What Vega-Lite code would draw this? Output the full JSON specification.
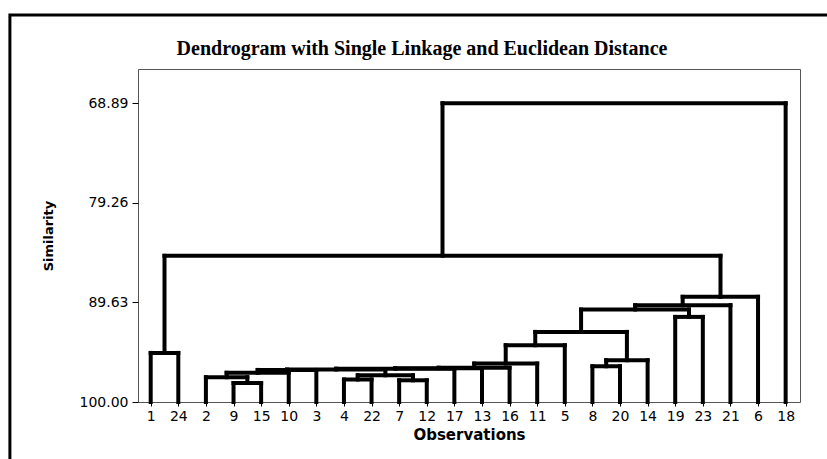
{
  "$schema": "https://vega.github.io/schema/vega-lite/v6.json",
  "width": 662,
  "height": 333,
  "autosize": {"type": "none"},
  "padding": {"left": 138, "top": 69, "right": 27, "bottom": 57},
  "background": "white",
  "title": {
    "text": "Dendrogram with Single Linkage and Euclidean Distance",
    "font": "Liberation Serif",
    "fontSize": 20,
    "fontWeight": "bold",
    "color": "black",
    "anchor": "middle",
    "frame": "group",
    "baseline": "alphabetic",
    "offset": 0,
    "dy": 62,
    "dx": -47
  },
  "config": {
    "view": {"stroke": "#555555", "strokeWidth": 1},
    "axis": {
      "labelFont": "DejaVu Sans",
      "labelFontSize": 14,
      "labelColor": "black",
      "titleFont": "DejaVu Sans",
      "titleFontWeight": "bold",
      "titleColor": "black",
      "tickColor": "black",
      "grid": false,
      "domain": false,
      "labelOverlap": false
    },
    "axisX": {"labelOverlap": false, "labelFlush": false}
  },
  "data": {
    "values": [
      {"xl": 1, "xr": 2, "hl": 100, "hr": 100, "h": 94.89},
      {"xl": 4, "xr": 5, "hl": 100, "hr": 100, "h": 98.02},
      {"xl": 3, "xr": 4.5, "hl": 100, "hr": 98.02, "h": 97.42},
      {"xl": 3.75, "xr": 6, "hl": 97.42, "hr": 100, "h": 96.96},
      {"xl": 4.875, "xr": 7, "hl": 96.96, "hr": 100, "h": 96.66},
      {"xl": 8, "xr": 9, "hl": 100, "hr": 100, "h": 97.66},
      {"xl": 10, "xr": 11, "hl": 100, "hr": 100, "h": 97.74},
      {"xl": 8.5, "xr": 10.5, "hl": 97.66, "hr": 97.74, "h": 97.22},
      {"xl": 5.94, "xr": 9.5, "hl": 96.66, "hr": 97.22, "h": 96.62},
      {"xl": 7.72, "xr": 12, "hl": 96.62, "hr": 100, "h": 96.53},
      {"xl": 9.86, "xr": 13, "hl": 96.53, "hr": 100, "h": 96.48},
      {"xl": 11.43, "xr": 14, "hl": 96.48, "hr": 100, "h": 96.43},
      {"xl": 12.72, "xr": 15, "hl": 96.43, "hr": 100, "h": 96.0},
      {"xl": 13.86, "xr": 16, "hl": 96.0, "hr": 100, "h": 94.09},
      {"xl": 17, "xr": 18, "hl": 100, "hr": 100, "h": 96.28},
      {"xl": 17.5, "xr": 19, "hl": 96.28, "hr": 100, "h": 95.65},
      {"xl": 14.93, "xr": 18.25, "hl": 94.09, "hr": 95.65, "h": 92.7},
      {"xl": 20, "xr": 21, "hl": 100, "hr": 100, "h": 91.14},
      {"xl": 16.59, "xr": 20.5, "hl": 92.7, "hr": 91.14, "h": 90.37},
      {"xl": 18.55, "xr": 22, "hl": 90.37, "hr": 100, "h": 89.92},
      {"xl": 20.27, "xr": 23, "hl": 89.92, "hr": 100, "h": 89.05},
      {"xl": 1.5, "xr": 21.64, "hl": 94.89, "hr": 89.05, "h": 84.78},
      {"xl": 11.57, "xr": 24, "hl": 84.78, "hr": 100, "h": 68.89}
    ]
  },
  "layer": [
    {
      "mark": {"type": "rule", "color": "black", "strokeWidth": 4, "strokeCap": "square"},
      "encoding": {
        "x": {
          "field": "xl",
          "type": "quantitative",
          "scale": {"domain": [0.54, 24.52], "nice": false, "zero": false},
          "axis": {
            "values": [1, 2, 3, 4, 5, 6, 7, 8, 9, 10, 11, 12, 13, 14, 15, 16, 17, 18, 19, 20, 21, 22, 23, 24],
            "labelExpr": "['1','24','2','9','15','10','3','4','22','7','12','17','13','16','11','5','8','20','14','19','23','21','6','18'][datum.value - 1]",
            "tickSize": 4,
            "labelPadding": 3,
            "labelFlush": false,
            "labelOverlap": false,
            "title": "Observations",
            "titleFontSize": 15,
            "titlePadding": 4
          }
        },
        "y": {
          "field": "hl",
          "type": "quantitative",
          "scale": {"domain": [65.33, 100], "nice": false, "zero": false, "reverse": true},
          "axis": {
            "values": [68.89, 79.26, 89.63, 100],
            "format": ".2f",
            "tickSize": 6,
            "labelPadding": 4,
            "title": "Similarity",
            "titleFontSize": 13,
            "titlePadding": 24
          }
        },
        "y2": {"field": "h"}
      }
    },
    {
      "mark": {"type": "rule", "color": "black", "strokeWidth": 4, "strokeCap": "square"},
      "encoding": {
        "x": {
          "field": "xr",
          "type": "quantitative",
          "scale": {"domain": [0.54, 24.52], "nice": false, "zero": false},
          "axis": {
            "values": [1, 2, 3, 4, 5, 6, 7, 8, 9, 10, 11, 12, 13, 14, 15, 16, 17, 18, 19, 20, 21, 22, 23, 24],
            "labelExpr": "['1','24','2','9','15','10','3','4','22','7','12','17','13','16','11','5','8','20','14','19','23','21','6','18'][datum.value - 1]",
            "tickSize": 4,
            "labelPadding": 3,
            "labelFlush": false,
            "labelOverlap": false,
            "title": "Observations",
            "titleFontSize": 15,
            "titlePadding": 4
          }
        },
        "y": {
          "field": "hr",
          "type": "quantitative",
          "scale": {"domain": [65.33, 100], "nice": false, "zero": false, "reverse": true},
          "axis": {
            "values": [68.89, 79.26, 89.63, 100],
            "format": ".2f",
            "tickSize": 6,
            "labelPadding": 4,
            "title": "Similarity",
            "titleFontSize": 13,
            "titlePadding": 24
          }
        },
        "y2": {"field": "h"}
      }
    },
    {
      "mark": {"type": "rule", "color": "black", "strokeWidth": 4, "strokeCap": "square"},
      "encoding": {
        "x": {
          "field": "xl",
          "type": "quantitative",
          "scale": {"domain": [0.54, 24.52], "nice": false, "zero": false},
          "axis": {
            "values": [1, 2, 3, 4, 5, 6, 7, 8, 9, 10, 11, 12, 13, 14, 15, 16, 17, 18, 19, 20, 21, 22, 23, 24],
            "labelExpr": "['1','24','2','9','15','10','3','4','22','7','12','17','13','16','11','5','8','20','14','19','23','21','6','18'][datum.value - 1]",
            "tickSize": 4,
            "labelPadding": 3,
            "labelFlush": false,
            "labelOverlap": false,
            "title": "Observations",
            "titleFontSize": 15,
            "titlePadding": 4
          }
        },
        "x2": {"field": "xr"},
        "y": {
          "field": "h",
          "type": "quantitative",
          "scale": {"domain": [65.33, 100], "nice": false, "zero": false, "reverse": true},
          "axis": {
            "values": [68.89, 79.26, 89.63, 100],
            "format": ".2f",
            "tickSize": 6,
            "labelPadding": 4,
            "title": "Similarity",
            "titleFontSize": 13,
            "titlePadding": 24
          }
        }
      }
    },
    {
      "data": {"values": [{}]},
      "mark": {"type": "rect", "fill": "transparent", "stroke": "black", "strokeWidth": 3, "clip": false},
      "encoding": {
        "x": {
          "datum": -4.1,
          "type": "quantitative",
          "scale": {"domain": [0.54, 24.52], "nice": false, "zero": false},
          "axis": {
            "values": [1, 2, 3, 4, 5, 6, 7, 8, 9, 10, 11, 12, 13, 14, 15, 16, 17, 18, 19, 20, 21, 22, 23, 24],
            "labelExpr": "['1','24','2','9','15','10','3','4','22','7','12','17','13','16','11','5','8','20','14','19','23','21','6','18'][datum.value - 1]",
            "tickSize": 4,
            "labelPadding": 3,
            "labelFlush": false,
            "labelOverlap": false,
            "title": "Observations",
            "titleFontSize": 15,
            "titlePadding": 4
          }
        },
        "x2": {"datum": 26.5},
        "y": {
          "datum": 59.7,
          "type": "quantitative",
          "scale": {"domain": [65.33, 100], "nice": false, "zero": false, "reverse": true},
          "axis": {
            "values": [68.89, 79.26, 89.63, 100],
            "format": ".2f",
            "tickSize": 6,
            "labelPadding": 4,
            "title": "Similarity",
            "titleFontSize": 13,
            "titlePadding": 24
          }
        },
        "y2": {"datum": 110}
      }
    }
  ]
}
